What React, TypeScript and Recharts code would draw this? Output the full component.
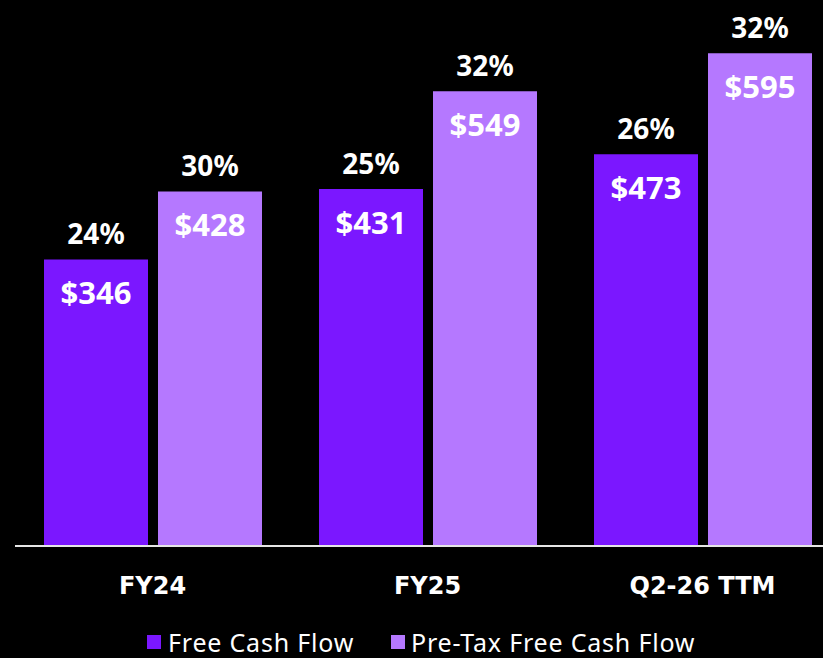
import { Bar, BarChart, LabelList, Legend, XAxis, YAxis } from 'recharts';

const categories = ['FY24', 'FY25', 'Q2-26 TTM'];
const freeCashFlow = [346, 431, 473];
const preTaxFreeCashFlow = [428, 549, 595];
const preTaxMargin = ['30%', '32%', '32%'];
const fcfMargin = ['24%', '25%', '26%'];

const data = categories.map((name, i) => ({
  name,
  fcf: freeCashFlow[i],
  ptfcf: preTaxFreeCashFlow[i]
}));

const FONT = '"Noto Sans", "Open Sans", sans-serif';

function makeLabel(pcts: string[]) {
  return (props: any) => {
    const { x, y, width, value, index } = props;
    const cx = x + width / 2;
    return (
      <g>
        <text x={cx} y={y - 15} textAnchor="middle" fill="#fff" fontSize={28} fontWeight={700} fontFamily={FONT}>
          {pcts[index]}
        </text>
        <text x={cx} y={y + 45} textAnchor="middle" fill="#fff" fontSize={31} fontWeight={700} fontFamily={FONT}>
          ${value}
        </text>
      </g>
    );
  };
}

export default function App() {
  return (
    <div style={{ width: 823, height: 658, overflow: 'hidden', background: '#000', position: 'fixed', left: 0, top: 0 }}>
      <BarChart
        width={840}
        height={658}
        data={data}
        margin={{ top: 49, right: 0, left: 15, bottom: 0 }}
        barGap={10}
        barSize={104}
      >
        <YAxis hide domain={[0, 600]} />
        <XAxis
          dataKey="name"
          tickLine={false}
          axisLine={{ stroke: '#e6e6e6', strokeWidth: 2 }}
          tick={{ fill: '#fff', fontSize: 24, fontWeight: 700, fontFamily: '"DejaVu Sans", sans-serif' }}
          tickMargin={25}
          height={84}
        />
        <Legend
          verticalAlign="bottom"
          content={() => (
            <div style={{ display: 'flex', paddingLeft: 132, fontFamily: FONT, fontSize: 25, color: '#fff', lineHeight: '28px', letterSpacing: 0.8 }}>
              <span style={{ display: 'flex', alignItems: 'center', width: 244 }}>
                <span style={{ width: 14, height: 14, background: '#7b17ff', marginRight: 7, display: 'inline-block' }} />
                Free Cash Flow
              </span>
              <span style={{ display: 'flex', alignItems: 'center' }}>
                <span style={{ width: 14, height: 14, background: '#b578ff', marginRight: 6, display: 'inline-block' }} />
                Pre-Tax Free Cash Flow
              </span>
            </div>
          )}
          wrapperStyle={{ bottom: 2 }}
        />
        <Bar dataKey="fcf" name="Free Cash Flow" fill="#7b17ff" isAnimationActive={false}>
          <LabelList dataKey="fcf" content={makeLabel(fcfMargin)} />
        </Bar>
        <Bar dataKey="ptfcf" name="Pre-Tax Free Cash Flow" fill="#b578ff" isAnimationActive={false}>
          <LabelList dataKey="ptfcf" content={makeLabel(preTaxMargin)} />
        </Bar>
      </BarChart>
    </div>
  );
}
